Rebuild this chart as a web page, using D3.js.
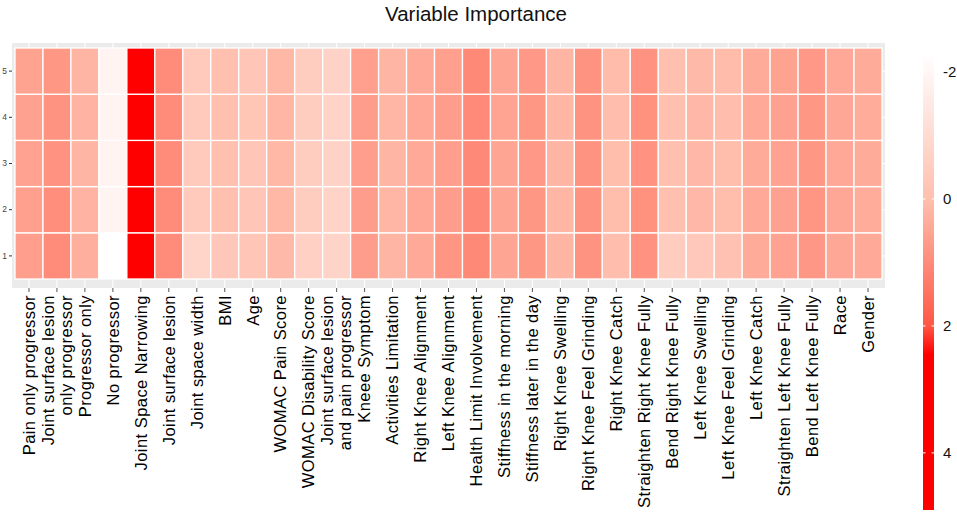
<!DOCTYPE html>
<html>
<head>
<meta charset="utf-8">
<script src="https://cdn.jsdelivr.net/npm/d3@7"></script>
<style>
  body { margin: 0; background: #fff; }
  svg { display: block; font-family: "Liberation Sans", Arial, Helvetica, sans-serif; }
</style>
</head>
<body>
<svg id="chart"></svg>
<script>
// variables along x (| marks a line break in the label)
const variables = [
  'Pain only progressor', 'Joint surface lesion|only progressor', 'Progressor only',
  'No progressor', 'Joint Space Narrowing', 'Joint surface lesion', 'Joint space width',
  'BMI', 'Age', 'WOMAC Pain Score', 'WOMAC Disability Score',
  'Joint surface lesion|and pain progressor', 'Kneee Symptom', 'Activities Limitation',
  'Right Knee Alignment', 'Left Knee Alignment', 'Health Limit Involvement',
  'Stiffness in the morning', 'Stiffness later in the day', 'Right Knee Swelling',
  'Right Knee Feel Grinding', 'Right Knee Catch', 'Straighten Right Knee Fully',
  'Bend Right Knee Fully', 'Left Knee Swelling', 'Left Knee Feel Grinding',
  'Left Knee Catch', 'Straighten Left Knee Fully', 'Bend Left Knee Fully', 'Race', 'Gender'
];

const rowLabels = ['1', '2', '3', '4', '5'];

// importance per row, same order as variables
const row1 = [0.65, 1.00, 0.31, -2.30, 4.90, 1.00, -0.79, -0.30, -0.25, 0.12, -0.60, -0.75, 0.66, 0.20, 0.40, 0.80, 1.05, 0.50, 0.78, 0.20, 0.85, 0.02, 0.87, -0.49, -0.34, -0.08, 0.38, 0.56, 0.77, 0.46, 0.40];
const row2 = [0.60, 0.96, 0.22, -1.92, 4.70, 1.00, -0.36, -0.04, -0.22, 0.16, -0.52, -0.72, 0.66, 0.18, 0.44, 0.66, 1.04, 0.50, 0.78, 0.18, 0.86, 0.04, 0.90, -0.04, 0.14, 0.04, 0.40, 0.58, 0.80, 0.46, 0.36];
const row3 = [0.56, 0.87, 0.20, -1.90, 4.80, 1.00, -0.38, -0.04, -0.22, 0.15, -0.50, -0.70, 0.64, 0.20, 0.42, 0.64, 1.04, 0.50, 0.76, 0.20, 0.85, 0.04, 0.88, -0.04, 0.13, 0.04, 0.38, 0.56, 0.78, 0.45, 0.38];
const row4 = [0.58, 0.86, 0.22, -1.92, 4.70, 1.00, -0.40, -0.02, -0.20, 0.18, -0.52, -0.72, 0.66, 0.18, 0.44, 0.66, 1.02, 0.52, 0.78, 0.18, 0.86, 0.02, 0.90, -0.02, 0.14, 0.02, 0.40, 0.58, 0.78, 0.46, 0.36];
const row5 = [0.55, 0.78, 0.20, -1.90, 4.60, 1.00, -0.38, -0.05, -0.22, 0.15, -0.50, -0.70, 0.62, 0.20, 0.42, 0.62, 1.05, 0.50, 0.75, 0.20, 0.85, 0.05, 0.88, -0.05, 0.12, 0.05, 0.38, 0.55, 0.75, 0.45, 0.38];
const importance = [row1, row2, row3, row4, row5];

const legendTicks = [-2, 0, 2, 4];
const title = 'Variable Importance';

const width = 957;
const height = 514;
const panel = { left: 12, right: 885, top: 43, bottom: 288 };

const svg = d3.select('#chart')
  .attr('width', width)
  .attr('height', height);

// flatten into cells
const cells = [];
importance.forEach(function(row, r) {
  row.forEach(function(v, c) {
    cells.push({ variable: variables[c], row: rowLabels[r], value: v });
  });
});

const extent = d3.extent(cells, function(d) { return d.value; });

const colour = d3.scaleLinear()
  .domain([extent[0], 0, 2, 2.45, extent[1]])
  .range(['#ffffff', '#ffbfae', '#ff5846', '#ff0000', '#ff0000'])
  .interpolate(d3.interpolateRgb)
  .clamp(true);

const x = d3.scaleBand()
  .domain(variables)
  .range([15, 882]);

const y = d3.scaleBand()
  .domain(rowLabels)
  .range([279, 48]);

// title
svg.append('text')
  .attr('x', 476)
  .attr('y', 21)
  .attr('text-anchor', 'middle')
  .style('font-size', '20.5px')
  .attr('fill', '#111')
  .text(title);

// panel background + grid
svg.append('rect')
  .attr('x', panel.left)
  .attr('y', panel.top)
  .attr('width', panel.right - panel.left)
  .attr('height', panel.bottom - panel.top)
  .attr('fill', '#ebebeb');

svg.append('g').selectAll('line')
  .data(variables)
  .enter()
  .append('line')
  .attr('x1', function(d) { return x(d) + x.bandwidth() / 2; })
  .attr('x2', function(d) { return x(d) + x.bandwidth() / 2; })
  .attr('y1', panel.top)
  .attr('y2', panel.bottom)
  .attr('stroke', '#fff')
  .attr('stroke-width', 1);

svg.append('g').selectAll('line')
  .data(rowLabels)
  .enter()
  .append('line')
  .attr('x1', panel.left)
  .attr('x2', panel.right)
  .attr('y1', function(d) { return y(d) + y.bandwidth() / 2; })
  .attr('y2', function(d) { return y(d) + y.bandwidth() / 2; })
  .attr('stroke', '#fff')
  .attr('stroke-width', 1);

// tiles
svg.append('g').selectAll('rect')
  .data(cells)
  .enter()
  .append('rect')
  .attr('x', function(d) { return x(d.variable); })
  .attr('y', function(d) { return y(d.row); })
  .attr('width', x.bandwidth())
  .attr('height', y.bandwidth())
  .attr('fill', function(d) { return colour(d.value); })
  .attr('stroke', '#fff')
  .attr('stroke-width', 1.3);

// x axis
const xAxis = svg.append('g')
  .attr('transform', 'translate(0,' + panel.bottom + ')')
  .call(d3.axisBottom(x).tickSize(4).tickFormat(''));
xAxis.select('.domain').remove();
xAxis.selectAll('.tick line').attr('stroke', '#555');

const lineGap = 18;
const xLabels = svg.append('g').selectAll('text')
  .data(variables)
  .enter()
  .append('text')
  .attr('transform', function(d) {
    return 'translate(' + (x(d) + x.bandwidth() / 2) + ',295) rotate(-90)';
  })
  .attr('text-anchor', 'end')
  .style('font-size', '16.5px')
  .style('letter-spacing', '0.45px')
  .attr('fill', '#000');

xLabels.each(function(d) {
  const lines = d.split('|');
  const t = d3.select(this);
  lines.forEach(function(line, i) {
    t.append('tspan')
      .attr('x', 0)
      .attr('y', (i - (lines.length - 1) / 2) * lineGap)
      .attr('dy', '0.35em')
      .text(line);
  });
});

// y axis
const yAxis = svg.append('g')
  .attr('transform', 'translate(' + panel.left + ',0)')
  .call(d3.axisLeft(y).tickSize(3).tickPadding(2));
yAxis.select('.domain').remove();
yAxis.selectAll('.tick line').attr('stroke', '#333');
yAxis.selectAll('.tick text')
  .style('font-size', '8.5px')
  .attr('fill', '#444');

// legend colour bar
const legendX = 923;
const legendW = 11;
const legendScale = d3.scaleLinear()
  .domain(extent)
  .range([53, 510]);

const defs = svg.append('defs');
const grad = defs.append('linearGradient')
  .attr('id', 'legend-grad')
  .attr('x1', 0).attr('x2', 0)
  .attr('y1', 0).attr('y2', 1);
d3.range(0, 1.0001, 0.02).forEach(function(t) {
  const v = extent[0] + t * (extent[1] - extent[0]);
  grad.append('stop')
    .attr('offset', (t * 100) + '%')
    .attr('stop-color', colour(v));
});

svg.append('rect')
  .attr('x', legendX)
  .attr('y', legendScale(extent[0]))
  .attr('width', legendW)
  .attr('height', legendScale(extent[1]) - legendScale(extent[0]))
  .attr('fill', 'url(#legend-grad)');

const lt = svg.append('g').selectAll('g')
  .data(legendTicks)
  .enter()
  .append('g')
  .attr('transform', function(d) { return 'translate(0,' + legendScale(d) + ')'; });

lt.append('line')
  .attr('x1', legendX).attr('x2', legendX + 2.5)
  .attr('stroke', '#fff').attr('stroke-width', 1);
lt.append('line')
  .attr('x1', legendX + legendW - 2.5).attr('x2', legendX + legendW)
  .attr('stroke', '#fff').attr('stroke-width', 1);
lt.append('text')
  .attr('x', 943)
  .attr('dy', '0.35em')
  .style('font-size', '15px')
  .attr('fill', '#111')
  .text(function(d) { return d; });
</script>
</body>
</html>
